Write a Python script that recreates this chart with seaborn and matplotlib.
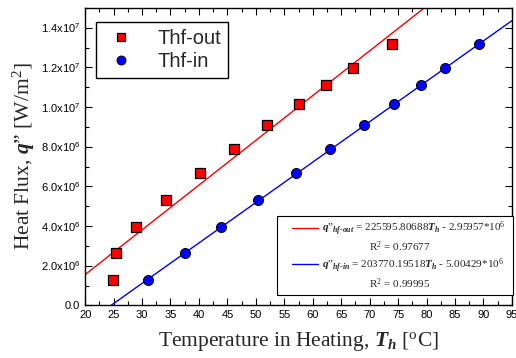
import matplotlib
matplotlib.use("Agg")

import matplotlib.pyplot as plt
import numpy as np
import pandas as pd
import seaborn as sns
from matplotlib.legend_handler import HandlerLine2D
from matplotlib.lines import Line2D
from matplotlib.ticker import FuncFormatter, MultipleLocator

# measured points (temperature in degC, heat flux in 1e6 W/m2)
temp_out = [24.9, 25.4, 29.0, 34.2, 40.2, 46.2, 51.9, 57.5, 62.4, 67.1, 74.0]
temp_in = [31.0, 37.5, 43.8, 50.4, 57.0, 63.0, 69.0, 74.2, 79.0, 83.3, 89.3]
flux_mw = [1.29, 2.65, 3.96, 5.32, 6.66, 7.89, 9.08, 10.14, 11.11, 11.96, 13.19]

# linear fit coefficients from the chart legend
fit_slope = [225595.80688, 203770.19518]
fit_intercept = [-2.95957e6, -5.00429e6]
fit_r2 = ["0.97677", "0.99995"]
fit_x = [20, 95]

series_names = ["Thf-out", "Thf-in"]
series_colors = ["#ff0000", "#0000ff"]

sns.set_theme(style="ticks")
plt.rcParams["font.family"] = ["Liberation Sans", "DejaVu Sans"]
plt.rcParams["mathtext.fontset"] = "custom"
plt.rcParams["mathtext.rm"] = "Liberation Serif"
plt.rcParams["mathtext.it"] = "Liberation Serif:italic"
plt.rcParams["mathtext.bf"] = "Liberation Serif:bold"
plt.rcParams["mathtext.bfit"] = "Liberation Serif:italic:bold"
plt.rcParams["mathtext.sf"] = "Liberation Sans"

df = pd.DataFrame(
    {
        "Temp": temp_out + temp_in,
        "Flux": [v * 1e6 for v in flux_mw] * 2,
        "Series": [series_names[0]] * len(temp_out) + [series_names[1]] * len(temp_in),
    }
)

fit_rows = []
for name, slope, icpt in zip(series_names, fit_slope, fit_intercept):
    for x in fit_x:
        fit_rows.append({"Temp": x, "Flux": slope * x + icpt, "Series": name})
fit_df = pd.DataFrame(fit_rows)

fig = plt.figure(figsize=(5.16, 3.58), dpi=100)
ax = fig.add_axes([0.165, 0.147, 0.827, 0.831])

sns.lineplot(
    data=fit_df, x="Temp", y="Flux", hue="Series",
    palette=series_colors, linewidth=1.0, legend=False, ax=ax,
)
sns.scatterplot(
    data=df[df["Series"] == series_names[0]], x="Temp", y="Flux",
    color=series_colors[0], marker="s", s=44, edgecolor="black",
    linewidth=0.9, zorder=3, ax=ax,
)
sns.scatterplot(
    data=df[df["Series"] == series_names[1]], x="Temp", y="Flux",
    color=series_colors[1], marker="o", s=52, edgecolor="black",
    linewidth=0.7, zorder=3, ax=ax,
)

ax.set_xlim(20, 95)
ax.set_ylim(0, 1.5e7)
ax.xaxis.set_major_locator(MultipleLocator(5))
ax.xaxis.set_minor_locator(MultipleLocator(2.5))
ax.yaxis.set_major_locator(MultipleLocator(2e6))
ax.yaxis.set_minor_locator(MultipleLocator(1e6))


def sci_fmt(v, pos):
    if v == 0:
        return "0.0"
    exp = int(np.floor(np.log10(abs(v))))
    mant = v / 10 ** exp
    return f"{mant:.1f}x10" + r"$^{\mathsf{" + str(exp) + "}}$"


ax.yaxis.set_major_formatter(FuncFormatter(sci_fmt))
ax.tick_params(which="both", direction="in", top=True, right=True,
               labelsize=8, colors="black", width=0.8)
ax.tick_params(which="major", length=5)
ax.tick_params(which="minor", length=3)
for sp in ax.spines.values():
    sp.set_color("black")
    sp.set_linewidth(1.0)

ax.set_xlabel(
    r"Temperature in Heating, $\boldsymbol{T}_{\boldsymbol{h}}$ [$^{\mathrm{o}}$C]",
    fontsize=15.5, family="Liberation Serif", labelpad=7,
)
ax.set_ylabel(
    r"Heat Flux, $\boldsymbol{q}$" + "\u201d" + r" [W/m$^2$]",
    fontsize=15.5, family="Liberation Serif", labelpad=3,
)

# marker legend
h1 = Line2D([], [], ls="", marker="s", markersize=5.8, markerfacecolor=series_colors[0],
            markeredgecolor="black", markeredgewidth=0.9)
h2 = Line2D([], [], ls="", marker="o", markersize=6.5, markerfacecolor=series_colors[1],
            markeredgecolor="black", markeredgewidth=0.6)
leg1 = ax.legend(
    [h1, h2], series_names, loc="upper left", bbox_to_anchor=(0.026, 0.953),
    fontsize=14.5, frameon=True, fancybox=False, edgecolor="black", framealpha=1,
    handletextpad=0.9, labelspacing=0.2, borderpad=0.35, handlelength=1.8,
    borderaxespad=0,
)
leg1.get_frame().set_linewidth(1.0)
ax.add_artist(leg1)

# fit legend
tags = ["hf\\text{-}out", "hf\\text{-}in"]
fit_handles = []
fit_labels = []
for color, slope, icpt, r2, tag in zip(series_colors, fit_slope, fit_intercept, fit_r2, tags):
    fit_handles.append(Line2D([], [], color=color, lw=1.0))
    fit_labels.append(
        r"$\boldsymbol{q}$" + "\u201d" + r"$_{\boldsymbol{" + tag + "}}$ = "
        + r"$\mathrm{" + f"{slope:.5f}" + r"}\boldsymbol{T}_{\boldsymbol{h}}$ - "
        + f"{-icpt / 1e6:.5f}" + r"*10$^6$"
    )
    fit_handles.append(Line2D([], [], color="none", lw=0))
    fit_labels.append("                 R$^2$ = " + r2)

leg2 = ax.legend(
    fit_handles, fit_labels, loc="lower left",
    bbox_to_anchor=(0.45, 0.035, 0.553, 0.252), mode="expand",
    prop={"family": "Liberation Serif", "size": 8}, frameon=True, framealpha=1,
    fancybox=False, edgecolor="black", labelspacing=0.15, borderpad=0.35,
    handlelength=3.3, handletextpad=0.4, borderaxespad=0,
    handler_map={Line2D: HandlerLine2D(xpad=1.0)},
)
leg2.get_frame().set_linewidth(0.8)

fig.savefig("out.png", dpi=100)
